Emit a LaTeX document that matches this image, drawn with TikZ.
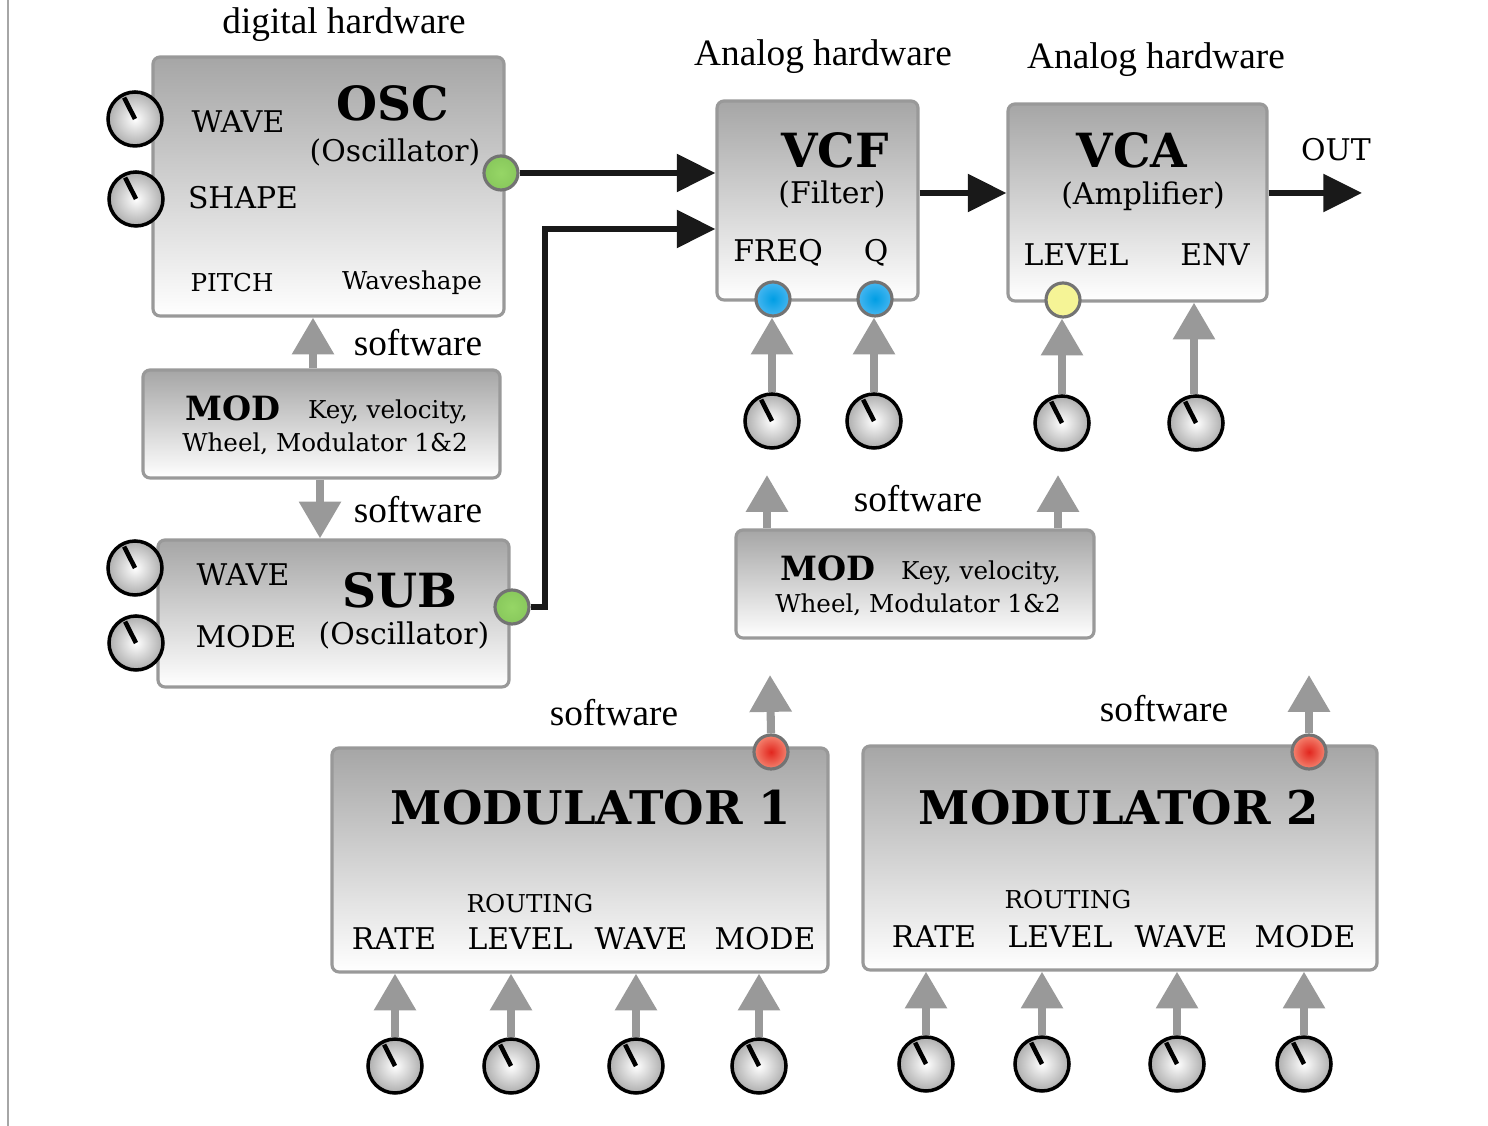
\documentclass[tikz,border=0pt]{standalone}
\usepackage{fontspec}
\setmainfont{Liberation Serif}
\newfontfamily\schola{DejaVu Serif}
\usepackage{xcolor}
\usetikzlibrary{arrows.meta,calc,positioning}
\definecolor{jgreenin}{RGB}{150,214,102}
\definecolor{jgreenout}{RGB}{136,200,92}
\definecolor{jbluein}{RGB}{0,158,228}
\definecolor{jblueout}{RGB}{70,182,240}
\definecolor{jyellow}{RGB}{245,244,150}
\definecolor{jredin}{RGB}{226,38,30}
\definecolor{jredout}{RGB}{244,132,112}
\tikzset{%
	panel/.style    = {draw=black!40, line width=0.9pt, rounded corners=2pt, top color=black!35, bottom color=white, inner sep=0pt},
	knob/.style     = {circle, draw=black, line width=1pt, minimum size=0.54cm, inner sep=0pt, shading=radial, inner color=white, outer color=black!32,
	                   path picture={\draw[line width=1.3pt] (path picture bounding box.center) -- ++(117:0.24cm);}},
	jack/.style     = {circle, draw=black!55, line width=0.9pt, minimum size=0.34cm, inner sep=0pt, shading=radial},
	sigarrow/.style = {line width=1.7pt, draw=black!90, -{Triangle[length=11pt,width=10.5pt]}},
	ctlarrow/.style = {line width=2.3pt, draw=black!40, -{Triangle[length=10.5pt,width=11.5pt]}},
	big/.style      = {inner sep=0pt, font=\schola\bfseries\fontsize{13.4}{16}\selectfont},
	lbl/.style      = {inner sep=0pt, font=\schola\fontsize{8.5}{10}\selectfont},
	small/.style    = {inner sep=0pt, font=\schola\fontsize{7}{8}\selectfont},
	modname/.style  = {inner sep=0pt, font=\schola\bfseries\fontsize{9.5}{11}\selectfont},
	note/.style     = {inner sep=0pt, font=\fontsize{10.6}{12}\selectfont},
}
\begin{document}
\begin{tikzpicture}[x=0.1mm, y=-0.1mm]
	\useasboundingbox (0,0) rectangle (1488,1126);
	\draw[black!35, line width=0.6pt] (8,0) -- (8,1126);

	% panels
	\node[panel, minimum width=3.51cm, minimum height=2.59cm] (osc) at (328.5,186.5) {};
	\node[panel, minimum width=2.01cm, minimum height=1.99cm] (vcf) at (817.5,200.5) {};
	\node[panel, minimum width=2.59cm, minimum height=1.97cm] (vca) at (1137.5,202.5) {};
	\node[panel, minimum width=3.57cm, minimum height=1.08cm] (modA) at (321.5,424) {};
	\node[panel, minimum width=3.51cm, minimum height=1.47cm] (sub) at (333.5,613.5) {};
	\node[panel, minimum width=3.58cm, minimum height=1.08cm] (modB) at (915,584) {};
	\node[panel, minimum width=4.96cm, minimum height=2.24cm] (modu1) at (580,860) {};
	\node[panel, minimum width=5.14cm, minimum height=2.24cm] (modu2) at (1120,858) {};

	% headings
	\node[note] (hd-dig) at (344,25) {digital hardware};
	\node[note] (hd-vcf) at (823,57) {Analog hardware};
	\node[note] (hd-vca) at (1156,60) {Analog hardware};
	\node[note] (sw-osc) at (418,343) {software};
	\node[note] (sw-sub) at (418,510) {software};
	\node[note] (sw-mod) at (918,499) {software};
	\node[note] (sw-m1) at (614,713) {software};
	\node[note] (sw-m2) at (1164,709) {software};

	% OSC
	\node[lbl] (osc-wave) at (238,122) {WAVE};
	\node[lbl] (osc-shape) at (243,198) {SHAPE};
	\node[big] (osc-name) at (393,103) {OSC};
	\node[lbl] (osc-sub) at (395,152) {(Oscillator)};
	\node[small] (osc-pitch) at (232,283) {PITCH};
	\node[small] (osc-ws) at (412,283) {Waveshape};

	% VCF, VCA
	\node[big] (vcf-name) at (835,150) {VCF};
	\node[lbl] (vcf-sub) at (832,194) {(Filter)};
	\node[lbl] (vcf-freq) at (778,253) {FREQ};
	\node[lbl] (vcf-q) at (876,253) {Q};
	\node[big] (vca-name) at (1132,150) {VCA};
	\node[lbl] (vca-sub) at (1143,196) {(Amplifier)};
	\node[lbl] (vca-level) at (1076,255) {LEVEL};
	\node[lbl] (vca-env) at (1215,255) {ENV};
	\node[lbl] (out-lbl) at (1336,150) {OUT};

	% MOD boxes
	\node[modname] (modA-name) at (233,408) {MOD};
	\node[small] (modA-t1) at (388,412) {Key, velocity,};
	\node[small] (modA-t2) at (325,444) {Wheel, Modulator 1\&2};
	\node[modname] (modB-name) at (828,568) {MOD};
	\node[small] (modB-t1) at (981,573) {Key, velocity,};
	\node[small] (modB-t2) at (918,605) {Wheel, Modulator 1\&2};

	% SUB
	\node[lbl] (sub-wave) at (243,575) {WAVE};
	\node[big] (sub-name) at (400,590) {SUB};
	\node[lbl] (sub-mode) at (246,637) {MODE};
	\node[lbl] (sub-sub) at (404,635) {(Oscillator)};

	% modulators
	\node[big, font=\schola\bfseries\fontsize{13.2}{16}\selectfont] (modu1-name) at (591,808) {MODULATOR 1};
	\node[small] (modu1-rt) at (530,904) {ROUTING};
	\node[lbl] (modu1-rate) at (394,939) {RATE};
	\node[lbl] (modu1-level) at (520,939) {LEVEL};
	\node[lbl] (modu1-wave) at (641,939) {WAVE};
	\node[lbl] (modu1-mode) at (765,939) {MODE};
	\node[big, font=\schola\bfseries\fontsize{13.2}{16}\selectfont] (modu2-name) at (1119,808) {MODULATOR 2};
	\node[small] (modu2-rt) at (1068,900) {ROUTING};
	\node[lbl] (modu2-rate) at (934,937) {RATE};
	\node[lbl] (modu2-level) at (1060,937) {LEVEL};
	\node[lbl] (modu2-wave) at (1181,937) {WAVE};
	\node[lbl] (modu2-mode) at (1305,937) {MODE};

	% jacks
	\node[jack, inner color=jgreenin, outer color=jgreenout] (josc) at (501,173) {};
	\node[jack, inner color=jgreenin, outer color=jgreenout] (jsub) at (512,607) {};
	\node[jack, inner color=jbluein, outer color=jblueout] (jfreq) at (773,299) {};
	\node[jack, inner color=jbluein, outer color=jblueout] (jq) at (875,299) {};
	\node[jack, inner color=jyellow, outer color=jyellow] (jlevel) at (1063,300) {};
	\node[jack, inner color=jredin, outer color=jredout] (jm1) at (771,752) {};
	\node[jack, inner color=jredin, outer color=jredout] (jm2) at (1309,752) {};

	% knobs
	\node[knob] (kwave) at (135,119) {};
	\node[knob] (kshape) at (136,199) {};
	\node[knob] (kswave) at (135,568) {};
	\node[knob] (ksmode) at (136,643) {};
	\node[knob] (kfreq) at (772,421) {};
	\node[knob] (kq) at (874,421) {};
	\node[knob] (klevel) at (1062,423) {};
	\node[knob] (kenv) at (1196,423) {};
	\node[knob] (kra1) at (395,1066) {};
	\node[knob] (kle1) at (511,1066) {};
	\node[knob] (kwa1) at (636,1066) {};
	\node[knob] (kmo1) at (759,1066) {};
	\node[knob] (kra2) at (926,1064) {};
	\node[knob] (kle2) at (1042,1064) {};
	\node[knob] (kwa2) at (1177,1064) {};
	\node[knob] (kmo2) at (1304,1064) {};

	% free ends
	\coordinate (bend) at (545,229);
	\coordinate (out) at (1362,193);
	\coordinate (upf) at (767,475);
	\coordinate (upl) at (1058,475);
	\coordinate (upm1) at (770,675);
	\coordinate (upm2) at (1309,675);

	% signal path
	\draw[sigarrow] (josc) -- (josc -| vcf.west);
	\draw[sigarrow] (jsub) -| (bend) -- (bend -| vcf.west);
	\draw[sigarrow] ([yshift=0.075cm]vcf.east) -- ([yshift=0.075cm]vcf.east -| vca.west);
	\draw[sigarrow] (vca.east |- out) -- (out);

	% control path
	\draw[ctlarrow] ([xshift=-0.085cm]modA.north) -- ([xshift=-0.085cm]modA.north |- osc.south);
	\draw[ctlarrow] ([xshift=-0.015cm]modA.south) -- ([xshift=-0.015cm]modA.south |- sub.north);
	\draw[ctlarrow] (kfreq.north) -- (kfreq |- jfreq.south);
	\draw[ctlarrow] (kq.north) -- (kq |- jq.south);
	\draw[ctlarrow] (klevel.north) -- (klevel |- jlevel.south);
	\draw[ctlarrow] ([xshift=-0.02cm]kenv.north) -- ([xshift=-0.02cm]kenv.north |- vca.south);
	\draw[ctlarrow] (upf |- modB.north) -- (upf);
	\draw[ctlarrow] (upl |- modB.north) -- (upl);
	\draw[ctlarrow] (jm1.north) -- (upm1);
	\draw[ctlarrow] (jm2.north) -- (upm2);
	\draw[ctlarrow] (kra1.north) -- (kra1 |- modu1.south);
	\draw[ctlarrow] (kle1.north) -- (kle1 |- modu1.south);
	\draw[ctlarrow] (kwa1.north) -- (kwa1 |- modu1.south);
	\draw[ctlarrow] (kmo1.north) -- (kmo1 |- modu1.south);
	\draw[ctlarrow] (kra2.north) -- (kra2 |- modu2.south);
	\draw[ctlarrow] (kle2.north) -- (kle2 |- modu2.south);
	\draw[ctlarrow] (kwa2.north) -- (kwa2 |- modu2.south);
	\draw[ctlarrow] (kmo2.north) -- (kmo2 |- modu2.south);
\end{tikzpicture}
\end{document}
